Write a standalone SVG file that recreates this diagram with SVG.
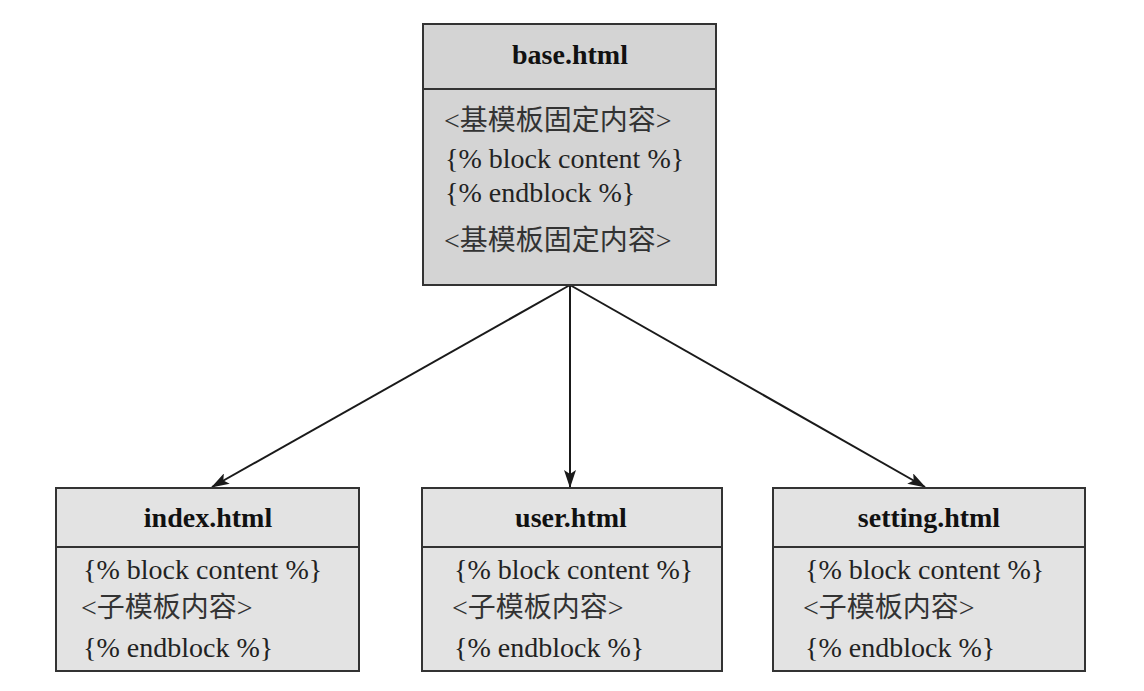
<svg xmlns="http://www.w3.org/2000/svg" width="1144" height="691" viewBox="0 0 1144 691">
<defs>
<marker id="arr" markerWidth="18" markerHeight="12" refX="17" refY="6" orient="auto" markerUnits="userSpaceOnUse">
<path d="M0,0 L18,6 L0,12 L4,6 Z" fill="#1a1a1a"/>
</marker>
<style>
.box{stroke:#333;stroke-width:2}
.base{fill:#d4d4d4}
.child{fill:#e3e3e3}
.div{stroke:#333;stroke-width:2}
.title{font-family:"Liberation Serif","Noto Sans CJK SC",serif;font-weight:bold;font-size:28px;fill:#111;text-anchor:middle}
.t{font-family:"Liberation Serif","Noto Sans CJK SC",serif;font-size:28px;fill:#222}
.cn{font-family:"Liberation Serif","Noto Sans CJK SC",serif;font-size:28px;fill:#333}
.conn{stroke:#1a1a1a;stroke-width:2;fill:none}
</style>
</defs>
<rect width="1144" height="691" fill="#fff"/>
<g id="connectors">
<line class="conn" x1="570" y1="285" x2="212" y2="487" marker-end="url(#arr)"/>
<line class="conn" x1="570" y1="285" x2="570" y2="487" marker-end="url(#arr)"/>
<line class="conn" x1="570" y1="285" x2="925" y2="487" marker-end="url(#arr)"/>
</g>
<g id="base">
<rect class="box base" x="423" y="24" width="293" height="261"/>
<line class="div" x1="423" y1="89" x2="716" y2="89"/>
<text class="title" x="570" y="64">base.html</text>
<text class="cn" x="444" y="130">&lt;基模板固定内容&gt;</text>
<text class="t" x="445" y="168">{% block content %}</text>
<text class="t" x="445" y="202">{% endblock %}</text>
<text class="cn" x="444" y="250">&lt;基模板固定内容&gt;</text>
</g>
<g id="index">
<rect class="box child" x="56" y="488" width="303" height="183"/>
<line class="div" x1="56" y1="547" x2="359" y2="547"/>
<text class="title" x="208" y="527">index.html</text>
<text class="t" x="83" y="579">{% block content %}</text>
<text class="cn" x="81" y="617">&lt;子模板内容&gt;</text>
<text class="t" x="83" y="657">{% endblock %}</text>
</g>
<g id="user">
<rect class="box child" x="422" y="488" width="300" height="183"/>
<line class="div" x1="422" y1="547" x2="722" y2="547"/>
<text class="title" x="571" y="527">user.html</text>
<text class="t" x="454" y="579">{% block content %}</text>
<text class="cn" x="452" y="617">&lt;子模板内容&gt;</text>
<text class="t" x="454" y="657">{% endblock %}</text>
</g>
<g id="setting">
<rect class="box child" x="773" y="488" width="312" height="183"/>
<line class="div" x1="773" y1="547" x2="1085" y2="547"/>
<text class="title" x="929" y="527">setting.html</text>
<text class="t" x="805" y="579">{% block content %}</text>
<text class="cn" x="803" y="617">&lt;子模板内容&gt;</text>
<text class="t" x="805" y="657">{% endblock %}</text>
</g>
</svg>
